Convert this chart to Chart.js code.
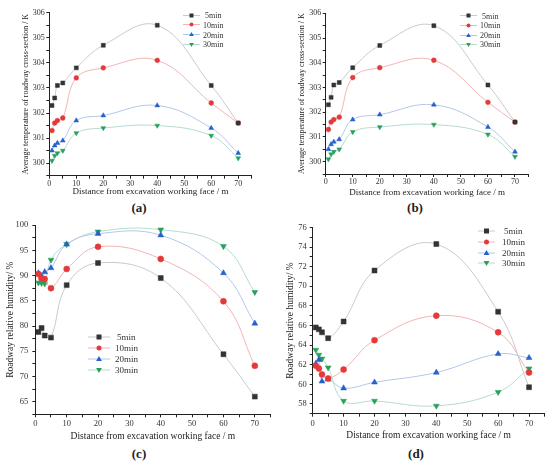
<!DOCTYPE html>
<html><head><meta charset="utf-8">
<script src="https://cdn.jsdelivr.net/npm/chart.js@4/dist/chart.umd.min.js"></script>
<style>
body{margin:0;background:#fff;width:550px;height:464px;position:relative;overflow:hidden;font-family:'Liberation Serif',serif}
.p{position:absolute}
.lab{position:absolute;font-weight:bold;font-size:13px;color:#222;transform:translate(-50%,-50%)}
.row{position:absolute;display:flex;align-items:center;white-space:nowrap;color:#333;transform:translateY(-50%)}
.row svg{display:block}
</style></head><body>
<div class="p" style="left:0;top:0;width:275px;height:200px"><canvas id="ca"></canvas></div>
<div class="p" style="left:275px;top:0;width:275px;height:200px"><canvas id="cb"></canvas></div>
<div class="p" style="left:0;top:216px;width:275px;height:226px"><canvas id="cc"></canvas></div>
<div class="p" style="left:275px;top:216px;width:275px;height:226px"><canvas id="cd"></canvas></div>
<div class="lab" style="left:139px;top:208px">(a)</div>
<div class="lab" style="left:415px;top:208px">(b)</div>
<div class="lab" style="left:139px;top:454px">(c)</div>
<div class="lab" style="left:416px;top:454px">(d)</div>
<div id="legs"></div>
<script>
// ---- data ----
const distances = [1, 2, 3, 5, 10, 20, 40, 60, 70];
const seriesNames = ['5min', '10min', '20min', '30min'];
const xTickLabels = [0, 10, 20, 30, 40, 50, 60, 70];

// (a) average temperature / K
const tempA5  = [302.3, 302.6, 303.1, 303.2, 303.8, 304.7, 305.5, 303.1, 301.6];
const tempA10 = [301.3, 301.6, 301.7, 301.8, 303.4, 303.8, 304.1, 302.4, 301.6];
const tempA20 = [300.5, 300.7, 300.8, 300.9, 301.7, 301.9, 302.3, 301.4, 300.4];
const tempA30 = [300.1, 300.3, 300.4, 300.5, 301.2, 301.4, 301.5, 301.1, 300.2];
// (b) average temperature / K
const tempB5  = [302.3, 302.6, 303.1, 303.2, 303.8, 304.7, 305.5, 303.1, 301.6];
const tempB10 = [301.3, 301.6, 301.7, 301.8, 303.4, 303.8, 304.1, 302.4, 301.6];
const tempB20 = [300.5, 300.7, 300.8, 300.9, 301.7, 301.9, 302.3, 301.4, 300.4];
const tempB30 = [300.1, 300.3, 300.4, 300.5, 301.2, 301.4, 301.5, 301.1, 300.2];
// (c) relative humidity / %
const humC5  = [78.8, 79.6, 78.1, 77.7, 88.1, 92.5, 89.5, 74.4, 66.0];
const humC10 = [90.3, 89.4, 89.3, 87.5, 91.3, 95.7, 93.3, 84.9, 72.1];
const humC20 = [90.5, 89.9, 90.7, 91.5, 96.2, 98.3, 98.0, 90.5, 80.5];
const humC30 = [88.6, 88.5, 88.4, 93.1, 96.2, 98.7, 99.1, 95.8, 86.7];
// (d) relative humidity / %
const humD5  = [65.8, 65.6, 65.3, 64.7, 66.4, 71.6, 74.3, 67.4, 59.7];
const humD10 = [61.9, 61.6, 61.0, 60.6, 61.5, 64.5, 67.0, 65.3, 61.2];
const humD20 = [62.1, 62.5, 60.3, 60.5, 59.6, 60.2, 61.2, 63.1, 62.7];
const humD30 = [63.5, 63.0, 62.6, 61.7, 58.3, 58.3, 57.8, 59.2, 61.6];

const tempTicks = [300, 301, 302, 303, 304, 305, 306];
const humCTicks = [65, 70, 75, 80, 85, 90, 95, 100];
const humDTicks = [58, 60, 62, 64, 66, 68, 70, 72, 74, 76];

const xTitle = 'Distance from excavation working face / m';
const tempTitle = 'Average temperature of roadway cross-section / K';
const humTitle = 'Roadway relative humidity/ %';

// ---- styles ----
const markerColors = ['#333333', '#e23a3a', '#2560cc', '#27a05c'];
const lineColors = ['#c9c9cf', '#f2b4b4', '#b2c8ea', '#b3dccf'];
const pointStyles = ['rect', 'circle', 'triangle', 'triangle'];
const pointRotations = [0, 0, 0, 180];
const FAM = "'Liberation Serif', 'Times New Roman', serif";

function near(v, arr) { return arr.some(t => Math.abs(t - v) < 1e-6); }

function makeChart(id, o) {
  const datasets = o.series.map((vals, k) => ({
    label: seriesNames[k],
    data: distances.map((x, i) => ({x: x, y: vals[i]})),
    borderColor: lineColors[k],
    borderWidth: 1,
    backgroundColor: markerColors[k],
    pointBackgroundColor: markerColors[k],
    pointBorderColor: markerColors[k],
    pointBorderWidth: 0.5,
    pointStyle: pointStyles[k],
    pointRotation: pointRotations[k],
    pointRadius: o.radii[k],
    tension: 0.4,
    fill: false
  }));
  const axisLine = {display: true, color: '#222', width: 1};
  const grid = {display: true, drawOnChartArea: false, drawTicks: true, tickLength: 3, tickColor: '#222'};
  return new Chart(document.getElementById(id), {
    type: 'line',
    data: {datasets: datasets},
    options: {
      responsive: true, maintainAspectRatio: false, animation: false,
      layout: {padding: o.pad},
      plugins: {legend: {display: false}, tooltip: {enabled: false}},
      scales: {
        x: {
          type: 'linear', min: 0, max: 75,
          border: axisLine, grid: grid,
          afterFit: s => { s.height = o.xH; },
          ticks: {stepSize: 5, autoSkip: false, maxRotation: 0, padding: o.xTickPad,
                  font: {family: FAM, size: o.tickSize}, color: '#333',
                  callback: v => near(v, xTickLabels) ? String(v) : ''},
          title: {display: true, text: xTitle, color: '#222',
                  font: {family: FAM, size: o.xTitleSize}, padding: {top: 0, bottom: o.xTitlePadB}}
        },
        y: {
          type: 'linear', min: o.yMin, max: o.yMax,
          border: axisLine, grid: grid,
          afterFit: s => { s.width = o.yW; },
          ticks: {stepSize: o.yStep, autoSkip: false, padding: o.yTickPad,
                  font: {family: FAM, size: o.tickSize}, color: '#333',
                  callback: v => near(v, o.yLabels) ? String(Math.round(v)) : ''},
          title: {display: true, text: o.yTitle, color: '#222',
                  font: {family: FAM, size: o.yTitleSize}, padding: {top: o.yTitlePadT, bottom: 0}}
        }
      }
    }
  });
}

makeChart('ca', {series: [tempA5, tempA10, tempA20, tempA30], radii: [2.8, 2.4, 2.8, 2.8],
  pad: {left: 0, top: 12.7, right: 23.3, bottom: 0}, yW: 49.3, xH: 24.3,
  yMin: 299.5, yMax: 306, yStep: 0.5, yLabels: tempTicks, yTitle: tempTitle,
  tickSize: 8, xTickPad: 0, yTickPad: 1.5, xTitleSize: 9, xTitlePadB: 2.6, yTitleSize: 8, yTitlePadT: 20.7});
makeChart('cb', {series: [tempB5, tempB10, tempB20, tempB30], radii: [2.8, 2.4, 2.8, 2.8],
  pad: {left: 0, top: 13.3, right: 21.5, bottom: 0}, yW: 50.7, xH: 26,
  yMin: 299.5, yMax: 306, yStep: 0.5, yLabels: tempTicks, yTitle: tempTitle,
  tickSize: 8, xTickPad: 0, yTickPad: 1.5, xTitleSize: 9, xTitlePadB: 2.3, yTitleSize: 8, yTitlePadT: 21.9});
makeChart('cc', {series: [humC5, humC10, humC20, humC30], radii: [3.5, 3.0, 3.4, 3.4],
  pad: {left: 0, top: 6.4, right: 1.4, bottom: 0}, yW: 35.3, xH: 27.7,
  yMin: 62.5, yMax: 100, yStep: 2.5, yLabels: humCTicks, yTitle: humTitle,
  tickSize: 8.5, xTickPad: 1.5, yTickPad: 4, xTitleSize: 9.5, xTitlePadB: 0.3, yTitleSize: 9.5, yTitlePadT: 4.3});
makeChart('cd', {series: [humD5, humD10, humD20, humD30], radii: [3.5, 3.0, 3.4, 3.4],
  pad: {left: 0, top: 11.4, right: 5.5, bottom: 0}, yW: 37.7, xH: 28.3,
  yMin: 57, yMax: 76, yStep: 1, yLabels: humDTicks, yTitle: humTitle,
  tickSize: 8.5, xTickPad: 1.5, yTickPad: 3, xTitleSize: 9.5, xTitlePadB: 1, yTitleSize: 9.5, yTitlePadT: 9.3});

// ---- legends (HTML) ----
function markerSVG(k, w, s) {
  const h = Math.max(s + 2, 8), cy = h / 2, cx = w / 2, c = markerColors[k];
  let m = '';
  if (k === 0) m = `<rect x="${cx - s/2}" y="${cy - s/2}" width="${s}" height="${s}" fill="${c}"/>`;
  else if (k === 1) m = `<circle cx="${cx}" cy="${cy}" r="${s/2}" fill="${c}"/>`;
  else if (k === 2) m = `<polygon points="${cx},${cy - s*0.6} ${cx - s*0.58},${cy + s*0.4} ${cx + s*0.58},${cy + s*0.4}" fill="${c}"/>`;
  else m = `<polygon points="${cx},${cy + s*0.6} ${cx - s*0.58},${cy - s*0.4} ${cx + s*0.58},${cy - s*0.4}" fill="${c}"/>`;
  return `<svg width="${w}" height="${h}"><line x1="0" y1="${cy}" x2="${w}" y2="${cy}" stroke="${lineColors[k]}" stroke-width="1"/>${m}</svg>`;
}
function makeLegend(left, rows, symW, gap, font, s) {
  const box = document.getElementById('legs');
  seriesNames.forEach((name, k) => {
    const d = document.createElement('div');
    d.className = 'row';
    d.style.left = left + 'px';
    d.style.top = rows[k] + 'px';
    d.style.fontSize = font + 'px';
    d.innerHTML = markerSVG(k, symW, s) + `<span style="margin-left:${gap + (k === 0 ? 2 : 0)}px">${name}</span>`;
    box.appendChild(d);
  });
}
makeLegend(183, [15, 24.8, 34.5, 44.3], 17, 3, 8, 4);
makeLegend(460, [15.7, 25.3, 35, 44.3], 17, 3, 8, 4);
makeLegend(88, [337, 347.8, 358.7, 369.7], 22, 5, 9, 5);
makeLegend(478, [231, 242.3, 253, 263.3], 17, 7, 9, 5);
</script>
</body></html>
